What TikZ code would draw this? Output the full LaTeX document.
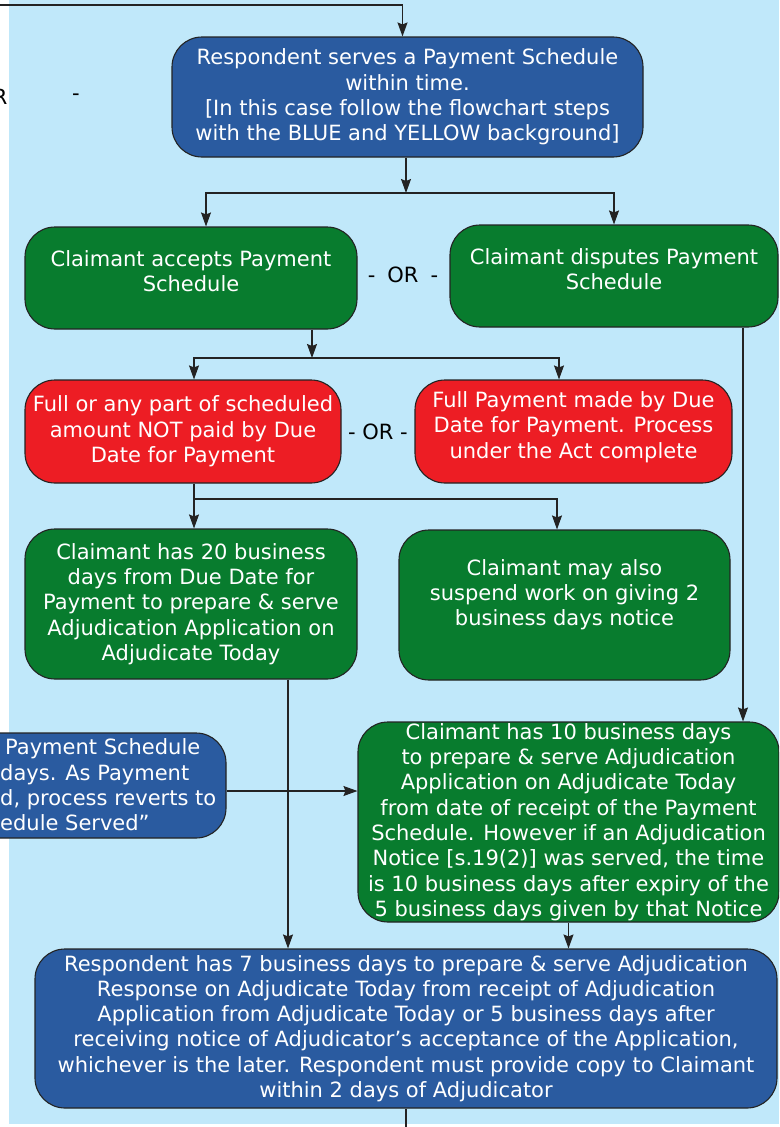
\documentclass[tikz,border=0pt]{standalone}
\usepackage{fontspec}
\setmainfont{DejaVu Sans}
\usepackage{tikz}
\usetikzlibrary{arrows.meta,positioning,calc}
\definecolor{flowbg}{RGB}{192,232,250}
\definecolor{boxblue}{RGB}{42,91,160}
\definecolor{boxgreen}{RGB}{8,124,46}
\definecolor{boxred}{RGB}{237,29,36}
\definecolor{linegray}{RGB}{35,35,35}

\begin{document}
\begin{tikzpicture}[x=1pt,y=-1pt,
  every node/.style={font=\fontsize{21}{25.3}\selectfont},
  stepbox/.style={draw=linegray,line width=1.1pt,rounded corners=30pt,text=white,align=center,inner sep=0pt},
  arr/.style={draw=linegray,line width=1.1pt,-{Stealth[length=14pt,width=10pt,inset=2pt]}},
  link/.style={draw=linegray,line width=1.1pt}]
  \useasboundingbox (0,0) rectangle (779,1127);
  \clip (0,0) rectangle (779,1127);
  \fill[flowbg] (9,0) rectangle (779,1124);
  % payment schedule served
  \node[stepbox,fill=boxblue,minimum width=471,minimum height=120] (serve) at (407.5,97)
    {Respondent serves a Payment Schedule\\within time.\\{[}In this case follow the flowchart steps\\with the BLUE and YELLOW background{]}};
  \node[anchor=east] (orCutR) at (11,97) {R};
  \node (orCutDash) at (76,97) {-};
  \coordinate (entry) at (0,5);
  \draw[arr] (entry) -| ([xshift=-5pt]serve.north);
  % claimant accepts or disputes
  \node[stepbox,fill=boxgreen,minimum width=332,minimum height=102] (accept) at (191,278)
    {Claimant accepts Payment\\Schedule\\[-12pt]\mbox{}};
  \node[stepbox,fill=boxgreen,minimum width=328,minimum height=102] (dispute) at (614,276)
    {Claimant disputes Payment\\Schedule\\[-12pt]\mbox{}};
  \node (orA) at (403,275) {-\hspace{12pt}OR\hspace{12pt}-};
  \coordinate (forkA) at (406,193);
  \draw[arr] (forkA |- serve.south) -- (forkA);
  \draw[arr] (forkA) -| ([xshift=15pt]accept.north);
  \draw[arr] (forkA) -| (dispute.north);
  % scheduled amount paid or not
  \node[stepbox,fill=boxred,minimum width=316,minimum height=103] (unpaid) at (183,431.5)
    {Full or any part of scheduled\\amount NOT paid by Due\\Date for Payment};
  \node[stepbox,fill=boxred,minimum width=317,minimum height=103] (paid) at (573.5,431.5)
    {Full Payment made by Due\\Date for Payment. Process\\under the Act complete\\[-12pt]\mbox{}};
  \node (orB) at (378,432) {- OR -};
  \coordinate (forkB) at (312,358);
  \draw[arr] (forkB |- accept.south) -- (forkB);
  \draw[arr] (forkB) -| ([xshift=11pt]unpaid.north);
  \draw[arr] (forkB) -| ([xshift=-14.5pt]paid.north);
  % time limits for the claimant
  \node[stepbox,fill=boxgreen,minimum width=332,minimum height=150] (days20) at (191,604)
    {Claimant has 20 business\\days from Due Date for\\Payment to prepare \& serve\\Adjudication Application on\\Adjudicate Today};
  \node[stepbox,fill=boxgreen,minimum width=331,minimum height=150] (suspend) at (564.5,605)
    {Claimant may also\\suspend work on giving 2\\business days notice\\\mbox{}};
  \coordinate (forkC) at (194,499);
  \draw[link] ([xshift=11pt]unpaid.south) -- (forkC);
  \draw[arr] (forkC) -- (forkC |- days20.north);
  \draw[arr] (forkC) -| ([xshift=-7.5pt]suspend.north);
  \node[stepbox,fill=boxgreen,minimum width=421,minimum height=200] (days10) at (568.5,822)
    {Claimant has 10 business days\\to prepare \& serve Adjudication\\Application on Adjudicate Today\\from date of receipt of the Payment\\Schedule. However if an Adjudication\\Notice {[}s.19(2){]} was served, the time\\is 10 business days after expiry of the\\5 business days given by that Notice};
  \draw[arr] ([xshift=129pt]dispute.south) -- ([xshift=129pt]dispute.south |- days10.north);
  % late payment schedule
  \node[stepbox,fill=boxblue,minimum width=426,minimum height=105] (late) at (13,785.5) {};
  \node[anchor=west,text=white,align=left,inner sep=0pt] (lateText) at (0,785)
    {\hspace*{5pt}Payment Schedule\\days. As Payment\\d, process reverts to\\edule Served”};
  \node[anchor=base east] (cutY) at (4,722) {y};
  \draw[arr] ([yshift=-5.5pt]late.east) -- ([yshift=-5.5pt]late.east -| days10.west);
  % adjudication response
  \node[stepbox,fill=boxblue,minimum width=742,minimum height=159] (respond) at (406,1028.5)
    {Respondent has 7 business days to prepare \& serve Adjudication\\Response on Adjudicate Today from receipt of Adjudication\\Application from Adjudicate Today or 5 business days after\\receiving notice of Adjudicator’s acceptance of the Application,\\whichever is the later. Respondent must provide copy to Claimant\\within 2 days of Adjudicator};
  \draw[arr] ([xshift=97pt]days20.south) -- ([xshift=97pt]days20.south |- respond.north);
  \draw[arr] (days10.south) -- (days10.south |- respond.north);
  \draw[link] (respond.south) -- ++(0,20);
\end{tikzpicture}
\end{document}
